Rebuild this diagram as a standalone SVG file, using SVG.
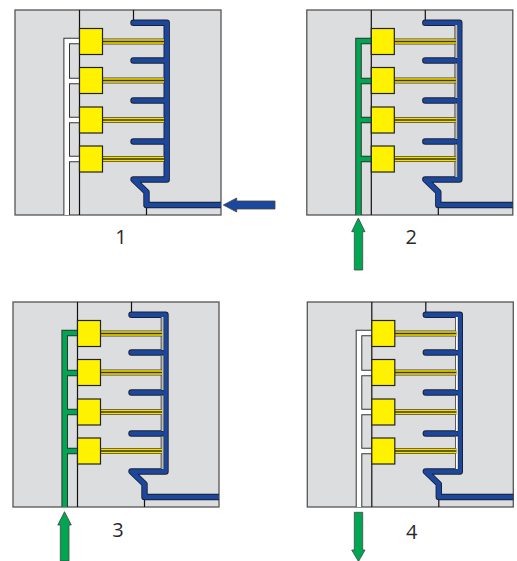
<svg xmlns="http://www.w3.org/2000/svg" width="517" height="561" viewBox="0 0 517 561">
<style>
text{font-family:"Open Sans","Noto Sans",sans-serif;font-size:20px;fill:#2a2a2a;text-anchor:middle}
.bg{fill:#dcddde;stroke:#555;stroke-width:1.3}
.ln{fill:none;stroke:#111;stroke-width:1.2}
.box{fill:#fff200;stroke:#222;stroke-width:1.2}
.stemo{fill:none;stroke:#444;stroke-width:6}
.stemy{fill:none;stroke:#f5de00;stroke-width:4.4}
.stemc{fill:none;stroke:#3f3800;stroke-width:1.4}
.bo{fill:none;stroke:#1a1f33;stroke-width:6.4;stroke-linecap:round;stroke-linejoin:round}
.bi{fill:none;stroke:#1b479c;stroke-width:4.6;stroke-linecap:round;stroke-linejoin:round}
.co{fill:none;stroke:#333;stroke-width:6.6}
.gc{fill:none;stroke:#00a651;stroke-width:4.6}
.wc{fill:none;stroke:#fff;stroke-width:4.6}
.ag{fill:#00a651;stroke:#444;stroke-width:.8}
.ab{fill:#1b479c;stroke:#444;stroke-width:.8}
.nk{fill:none;stroke:#333;stroke-width:3.6}
.nw{fill:none;stroke:#bdbdbd;stroke-width:2}
.nw2{fill:none;stroke:#fff;stroke-width:2}
</style>
<defs>
<clipPath id="c"><rect x="15" y="10" width="206" height="205"/></clipPath>
<g id="base">
<rect class="bg" x="15" y="10" width="206" height="205"/>
<path class="ln" d="M79.500 10V215M133.500 10V21M146.500 206V215"/>
</g>
<g id="boxes">
<path class="stemo" d="M102 41.500H164M102 80.500H164M102 120H164M102 159H164"/>
<path class="stemy" d="M102 41.500H164M102 80.500H164M102 120H164M102 159H164"/>
<path class="stemc" d="M102 41.500H164M102 80.500H164M102 120H164M102 159H164"/>
<rect class="box" x="79.500" y="28.500" width="23" height="26"/>
<rect class="box" x="79.500" y="67.500" width="23" height="26"/>
<rect class="box" x="79.500" y="107" width="23" height="26"/>
<rect class="box" x="79.500" y="146" width="23" height="26"/>
</g>
<path id="chan" d="M79.500 41H66.700V215M66.700 81H79.500M66.700 120H79.500M66.700 159H79.500"/>
<path id="blueFull" d="M133.500 22.700H166.700V179.500H133.500L146.500 192V205H224M133.500 60.500H166.700M133.500 100.500H166.700M133.500 141.500H166.700"/>
<path id="blueThin" d="M133.500 22.700H167.500V179.500H133.500L146.500 192V205H224M133.500 60.500H163M133.500 100.500H163M133.500 141.500H163"/>
<path id="bar" d="M164.500 25V58M164.500 63.500V98M164.500 103.500V139M164.500 144.500V177"/>
</defs>

<g id="panel-1">
<use href="#base"/>
<g id="channel-1"><use href="#chan" class="co"/><use href="#chan" class="wc"/></g>
<g id="blue-1" clip-path="url(#c)"><use href="#blueFull" class="bo"/><use href="#blueFull" class="bi"/></g>
<use href="#boxes"/>
<text x="121" y="244">1</text>
</g>
<g id="panel-2" transform="translate(291.800 0)">
<use href="#base"/>
<g id="channel-2"><use href="#chan" class="co"/><use href="#chan" class="gc"/></g>
<g id="blue-2" clip-path="url(#c)"><use href="#blueThin" class="bo"/><use href="#blueThin" class="bi"/><use href="#bar" class="nk"/><use href="#bar" class="nw"/></g>
<use href="#boxes"/>
<text x="119.500" y="243.500">2</text>
</g>
<g id="panel-3" transform="translate(-2 292)">
<use href="#base"/>
<g id="channel-3"><use href="#chan" class="co"/><use href="#chan" class="gc"/></g>
<g id="blue-3" clip-path="url(#c)"><use href="#blueThin" class="bo"/><use href="#blueThin" class="bi"/><use href="#bar" class="nk"/><use href="#bar" class="nw"/></g>
<use href="#boxes"/>
<text x="120" y="244.500">3</text>
</g>
<g id="panel-4" transform="translate(292.300 292)">
<use href="#base"/>
<g id="channel-4"><use href="#chan" class="co"/><use href="#chan" class="wc"/></g>
<g id="blue-4" clip-path="url(#c)"><use href="#blueThin" class="bo"/><use href="#blueThin" class="bi"/><use href="#bar" class="nk"/><use href="#bar" class="nw2"/></g>
<use href="#boxes"/>
<text x="119.500" y="247">4</text>
</g>
<g id="connectors">
<path class="ab" d="M223.300 205L236.700 198V201H275V209H236.700V212Z"/>
<path class="ag" d="M358.300 218L365 231.700H362.700V270H354.300V231.700H351.700Z"/>
<path class="ag" d="M64.500 511.700L71.300 525H69V561H60.300V525H57.800Z"/>
<path class="ag" d="M354.300 512.300H362.700V550H365L358.500 561.500L351.700 550H354.300Z"/>
</g>
</svg>
